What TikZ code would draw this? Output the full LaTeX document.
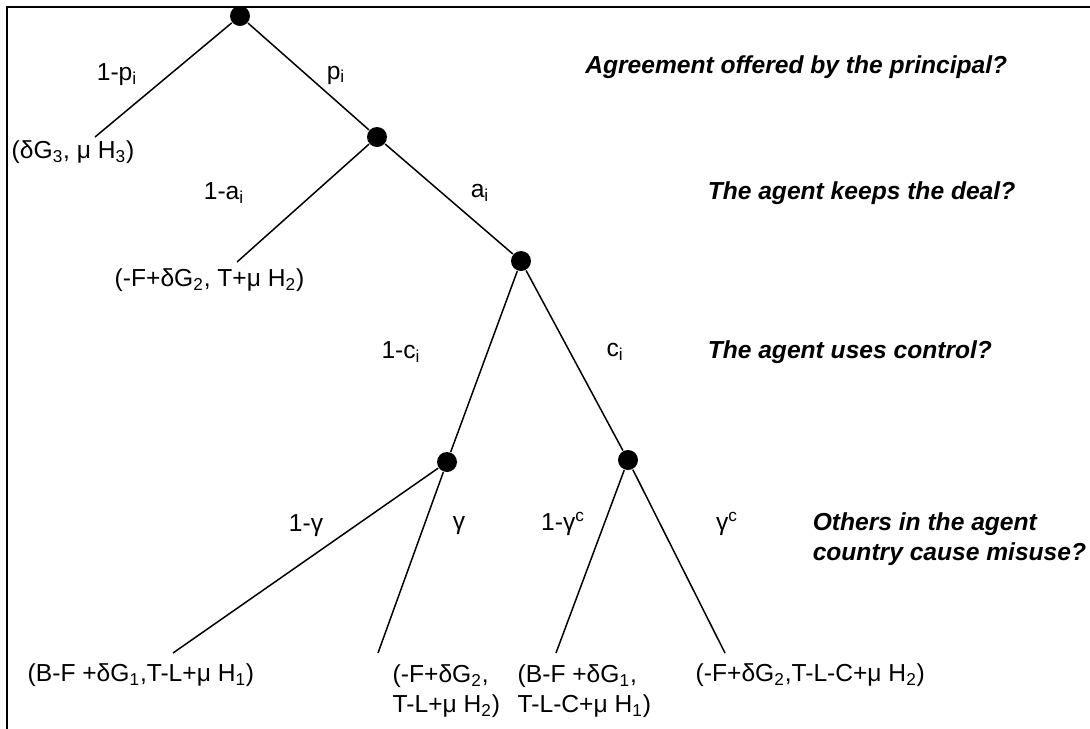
\documentclass[tikz,border=0pt]{standalone}
\usepackage{fontspec}
\setmainfont{Liberation Sans}
\newcommand\treefont{\fontsize{14}{17}\selectfont}
\begin{document}
\begin{tikzpicture}
	[x=0.02cm,y=-0.02cm,line width=0.85pt,
	 dot/.style={circle,fill=black,inner sep=0pt,minimum size=0.4cm},
	 prob/.style={inner sep=0pt,font=\treefont},
	 pay/.style={inner sep=0pt,font=\treefont,align=left},
	 quest/.style={inner sep=0pt,font=\treefont\bfseries\itshape,align=left}]
	\useasboundingbox (0,0) rectangle (1090,728);
	% frame
	\draw[line width=1.4pt] (7,740) -- (7,7) -- (1100,7);
	% decision nodes
	\node[dot] (root) at (240,16) {};
	\node[dot] (p) at (377,137) {};
	\node[dot] (a) at (521,261) {};
	\node[dot] (nc) at (447,462) {};
	\node[dot] (c) at (628,460) {};
	% free ends
	\coordinate (e3) at (95,137);
	\coordinate (e2) at (237,262);
	\coordinate (e11) at (173,653);
	\coordinate (e12) at (378,653);
	\coordinate (e01) at (556,653);
	\coordinate (e02) at (725,653);
	% branches
	\draw (root)--(e3) (root)--(p);
	\draw (p)--(e2) (p)--(a);
	\draw (a)--(nc) (a)--(c);
	\draw (nc)--(e11) (nc)--(e12);
	\draw (c)--(e01) (c)--(e02);
	% probabilities
	\node[prob] (lp0) at (117,75) {1-p\textsubscript{i}};
	\node[prob] (lp1) at (336,75) {p\textsubscript{i}};
	\node[prob] (la0) at (224,193) {1-a\textsubscript{i}};
	\node[prob] (la1) at (480,193) {a\textsubscript{i}};
	\node[prob] (lc0) at (401,352) {1-c\textsubscript{i}};
	\node[prob] (lc1) at (615,352) {c\textsubscript{i}};
	\node[prob] (lg0) at (306,526) {1-γ};
	\node[prob] (lg1) at (459,526) {γ};
	\node[prob] (lgc0) at (563,524) {1-γ\textsuperscript{c}};
	\node[prob] (lgc1) at (727,524) {γ\textsuperscript{c}};
	% payoffs
	\node[pay,anchor=west] (u3) at (11,152) {(δG\textsubscript{3}, μ H\textsubscript{3})};
	\node[pay,anchor=east] (u2) at (305,280) {(-F+δG\textsubscript{2}, T+μ H\textsubscript{2})};
	\node[pay,anchor=west] (u11) at (27,675) {(B-F +δG\textsubscript{1},T-L+μ H\textsubscript{1})};
	\node[pay,anchor=north west] (u12) at (392,664) {(-F+δG\textsubscript{2},\\T-L+μ H\textsubscript{2})};
	\node[pay,anchor=north west] (u01) at (517,664) {(B-F +δG\textsubscript{1},\\T-L-C+μ H\textsubscript{1})};
	\node[pay,anchor=west] (u02) at (695,675) {(-F+δG\textsubscript{2},T-L-C+μ H\textsubscript{2})};
	% questions
	\node[quest,anchor=east] (q1) at (1008,67) {Agreement offered by the principal?};
	\node[quest,anchor=west] (q2) at (707,193) {The agent keeps the deal?};
	\node[quest,anchor=west] (q3) at (707,352) {The agent uses control?};
	\node[quest,anchor=north west] (q4) at (812,512) {Others in the agent\\country cause misuse?};
\end{tikzpicture}
\end{document}
